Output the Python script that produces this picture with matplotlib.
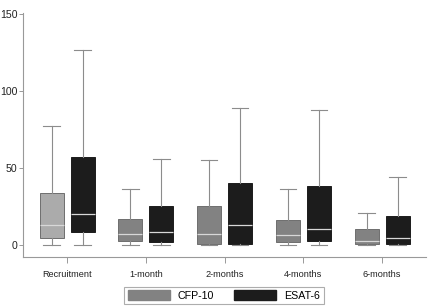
import numpy as np
import matplotlib
matplotlib.use('Agg')
import matplotlib.pyplot as plt
from matplotlib.patches import Patch

plt.rcParams['font.family'] = ['Liberation Sans', 'DejaVu Sans']

# Time points
groups = ['Recruitment', '1-month', '2-months', '4-months', '6-months']

# CFP-10 box statistics
cfp_whislo = [0, 0, 0, 0, 0]
cfp_q1 = [4.5, 2.5, 0.7, 2, 0.3]
cfp_med = [13, 7, 7, 6.5, 2.5]
cfp_q3 = [34, 17, 25, 16, 10]
cfp_whishi = [77, 36, 55, 36, 21]

# ESAT-6 box statistics
esat_whislo = [0, 0, 0, 0, 0]
esat_q1 = [8, 2, 0.5, 2.5, 0.5]
esat_med = [20, 8, 13, 10, 4.5]
esat_q3 = [57, 25, 40, 38, 19]
esat_whishi = [127, 56, 89, 88, 44]

cfp_colors = ['#ababab', '#828282', '#828282', '#828282', '#828282']
esat_color = '#1c1c1c'


def make_stats(lo, q1, med, q3, hi):
    return [dict(whislo=a, q1=b, med=c, q3=d, whishi=e, fliers=[])
            for a, b, c, d, e in zip(lo, q1, med, q3, hi)]


fig = plt.figure(figsize=(4.3, 3.06), dpi=100)
ax = fig.add_axes([0.0535, 0.160, 0.9375, 0.798])

x = np.arange(1, len(groups) + 1)
width = 0.305
off = 0.197

common = dict(widths=width, patch_artist=True, showfliers=False,
              whiskerprops=dict(color='#8c8c8c', linewidth=0.8),
              capprops=dict(color='#8c8c8c', linewidth=0.8),
              medianprops=dict(color='#d8d8d8', linewidth=0.9),
              capwidths=0.21)

b1 = ax.bxp(make_stats(cfp_whislo, cfp_q1, cfp_med, cfp_q3, cfp_whishi),
            positions=x - off,
            boxprops=dict(edgecolor='#6e6e6e', linewidth=0.7), **common)
for patch, c in zip(b1['boxes'], cfp_colors):
    patch.set_facecolor(c)

b2 = ax.bxp(make_stats(esat_whislo, esat_q1, esat_med, esat_q3, esat_whishi),
            positions=x + off,
            boxprops=dict(edgecolor=esat_color, facecolor=esat_color, linewidth=0.7),
            **common)

ax.set_xlim(0.44, 5.56)
ax.set_ylim(-8, 151)
ax.set_xticks(x)
ax.set_xticklabels(groups, fontsize=6.6)
ax.set_yticks([0, 50, 100, 150])
ax.tick_params(axis='y', labelsize=7.6, colors='#222222', color='#999999',
               length=3, width=0.7, pad=1)
ax.tick_params(axis='x', colors='#222222', color='#999999',
               length=4, width=0.7, pad=5)

for s in ['top', 'right']:
    ax.spines[s].set_visible(False)
for s in ['left', 'bottom']:
    ax.spines[s].set_color('#999999')
    ax.spines[s].set_linewidth(0.8)

handles = [Patch(facecolor='#828282', edgecolor='#828282', label='CFP-10'),
           Patch(facecolor=esat_color, edgecolor=esat_color, label='ESAT-6')]
leg = fig.legend(handles=handles, loc='lower center', ncol=2,
                 bbox_to_anchor=(0.521, 0.005), fontsize=7.7, frameon=True,
                 fancybox=False, edgecolor='#999999', handlelength=3.9,
                 handleheight=1.0, columnspacing=1.9, handletextpad=0.75,
                 borderpad=0.35, borderaxespad=0)
leg.get_frame().set_linewidth(0.8)

fig.savefig('out.png', dpi=100)
